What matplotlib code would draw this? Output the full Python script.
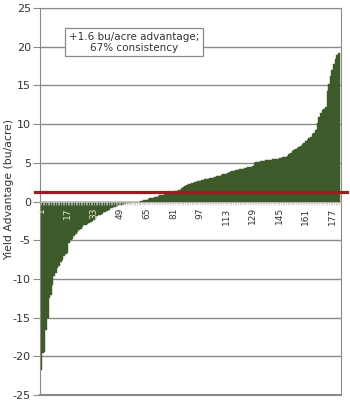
import numpy as np
import matplotlib
matplotlib.use("Agg")
import matplotlib.pyplot as plt

plt.rcParams["axes.unicode_minus"] = False

# Sorted yield advantage per site (bu/acre)
negative_vals = [
    -21.8, -19.6, -19.5, -16.6, -15.0, -12.5, -12.1, -10.8, -9.6, -9.2,
    -8.6, -8.3, -7.8, -7.5, -7.0, -6.8, -6.6, -5.4, -5.0, -4.8,
    -4.5, -4.2, -4.0, -3.7, -3.5, -3.3, -3.1, -3.0, -2.9, -2.8,
    -2.6, -2.5, -2.4, -2.2, -1.9, -1.8, -1.7, -1.6, -1.4, -1.3,
    -1.2, -1.1, -0.9, -0.8, -0.75, -0.7, -0.6, -0.5, -0.45, -0.4,
    -0.35, -0.3, -0.25, -0.2, -0.15, -0.12, -0.1, -0.07, -0.04, -0.02,
]
positive_vals = [
    0.05, 0.1, 0.15, 0.2, 0.25, 0.3, 0.4, 0.45, 0.5, 0.55,
    0.6, 0.7, 0.8, 0.85, 0.9, 0.95, 1.0, 1.1, 1.15, 1.2,
    1.25, 1.3, 1.4, 1.45, 1.5, 1.8, 1.9, 2.0, 2.1, 2.2,
    2.3, 2.35, 2.4, 2.5, 2.55, 2.6, 2.7, 2.75, 2.8, 2.85,
    2.9, 2.95, 3.0, 3.05, 3.1, 3.2, 3.25, 3.3, 3.35, 3.4,
    3.5, 3.55, 3.6, 3.7, 3.8, 3.9, 3.95, 4.0, 4.05, 4.1,
    4.15, 4.2, 4.25, 4.3, 4.35, 4.4, 4.45, 4.5, 4.6, 5.0,
    5.05, 5.1, 5.15, 5.2, 5.2, 5.25, 5.3, 5.3, 5.35, 5.4,
    5.45, 5.45, 5.5, 5.55, 5.6, 5.65, 5.7, 5.75, 5.8, 5.9,
    6.1, 6.3, 6.5, 6.7, 6.8, 6.9, 7.0, 7.2, 7.4, 7.6,
    7.8, 8.0, 8.2, 8.4, 8.7, 8.9, 9.3, 10.2, 10.9, 11.5,
    11.8, 12.0, 12.2, 14.3, 15.2, 16.2, 17.0, 17.8, 18.4, 18.9,
    19.2,
]
advantage = negative_vals + positive_vals
site_ids = np.arange(1, len(advantage) + 1)
tick_sites = [1, 17, 33, 49, 65, 81, 97, 113, 129, 145, 161, 177]
mean_line = 1.25
note = "+1.6 bu/acre advantage;\n67% consistency"

green = "#3d5a2b"
red = "#9e1b20"
gray = "#8a8a8a"
text_col = "#333333"
light_text = "#e6e6d2"

fig = plt.figure(figsize=(3.5, 4.03), dpi=100)
ax = fig.add_axes([0.114, 0.02, 0.86, 0.96])

ax.bar(site_ids, advantage, width=1.0, color=green, edgecolor=green,
       linewidth=0.3, zorder=2)

ax.set_xlim(0.3, len(advantage) + 1.2)
ax.set_ylim(-25, 25)
ax.set_yticks(np.arange(-25, 26, 5))
ax.yaxis.grid(True, color=gray, linewidth=1.0)
ax.yaxis.set_zorder(0.5)   # grid behind the bars
ax.xaxis.set_zorder(5)     # category labels over the bars

# x axis sits on the zero line, labels inside the plot
ax.spines["bottom"].set_position(("data", 0))
ax.spines["bottom"].set_color("#bbbbbb")
ax.spines["bottom"].set_linewidth(0.6)
ax.spines["bottom"].set_zorder(3)
ax.set_xticks(tick_sites)
ax.set_xticklabels([str(s) for s in tick_sites], rotation=90, fontsize=6.5)
# labels sitting on the deep negative bars read light, the rest dark
for s, lbl in zip(tick_sites, ax.get_xticklabels()):
    lbl.set_color(light_text if advantage[s - 1] < -2.0 else text_col)
ax.set_xticks(site_ids, minor=True)
ax.tick_params(axis="x", which="both", length=2.2, width=0.5, color="#c8c8c8",
               pad=2)
ax.tick_params(axis="y", length=5, color=gray, labelsize=8, labelcolor=text_col,
               pad=1.5)
for s in ["left", "right", "top"]:
    ax.spines[s].set_color(gray)
ax.axhline(-25, color=gray, linewidth=1.5, clip_on=False)

ax.axhline(mean_line, xmin=-0.017, xmax=1.02, color=red, linewidth=2.3,
           clip_on=False, zorder=4)

ax.set_ylabel("Yield Advantage (bu/acre)", fontsize=7.8, color=text_col)
ax.yaxis.set_label_coords(-0.087, 0.532)

ax.text(0.312, 0.912, note, transform=ax.transAxes, ha="center", va="center",
        fontsize=7.5, color=text_col, linespacing=1.15,
        bbox=dict(boxstyle="square,pad=0.35", facecolor="white", edgecolor=gray,
                  linewidth=0.9))

fig.savefig("out.png", dpi=100)
